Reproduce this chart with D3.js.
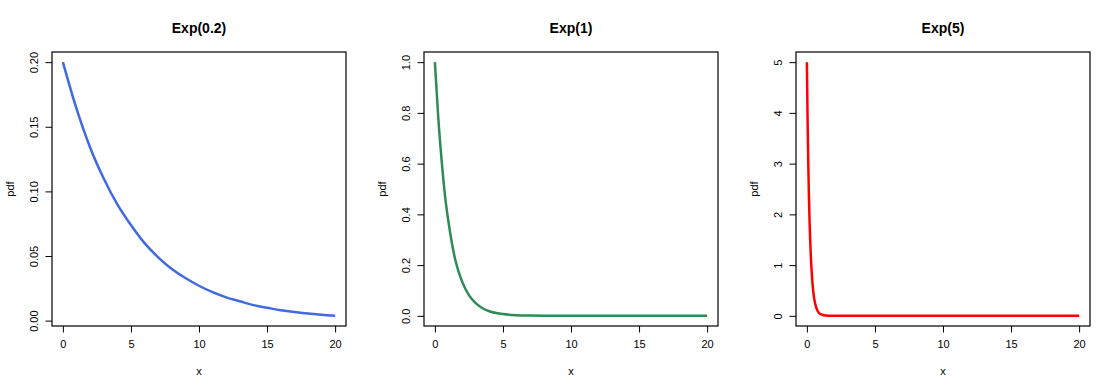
<!DOCTYPE html>
<html>
<head>
<meta charset="utf-8">
<script src="https://cdn.jsdelivr.net/npm/d3@7"></script>
<style>
    body { margin: 0; background: white; }
    text { font-family: "Liberation Sans", Arial, sans-serif; fill: black; }
</style>
</head>
<body>
<div id="plots"></div>
<script>
// Titles and colours of the three panels
const titles = ["Exp(0.2)", "Exp(1)", "Exp(5)"];
const colors = ["#4169E1", "#2E8B57", "#FF0000"];

// Tick labels
const xTicks = [0, 5, 10, 15, 20];
const yTicks1 = [0.00, 0.05, 0.10, 0.15, 0.20];
const yTicks2 = [0.0, 0.2, 0.4, 0.6, 0.8, 1.0];
const yTicks3 = [0, 1, 2, 3, 4, 5];

// Curve values
const x1 = [0, 1, 2, 3, 4, 5, 6, 7, 8, 9, 10, 11, 12, 13, 14, 15, 16, 17, 18, 19, 20];
const y1 = [0.200, 0.164, 0.134, 0.110, 0.090, 0.074, 0.060, 0.049, 0.040, 0.033, 0.027,
            0.022, 0.018, 0.015, 0.012, 0.010, 0.008, 0.0067, 0.0055, 0.0045, 0.0037];

const x2 = [0, 0.25, 0.5, 0.75, 1, 1.5, 2, 2.5, 3, 3.5, 4, 5, 6, 7, 8, 10, 15, 20];
const y2 = [1.00, 0.78, 0.61, 0.47, 0.37, 0.22, 0.135, 0.082, 0.050, 0.030, 0.018,
            0.007, 0.0025, 0.001, 0.0003, 0.00005, 0.0, 0.0];

const x3 = [0, 0.05, 0.1, 0.15, 0.2, 0.3, 0.4, 0.5, 0.6, 0.8, 1, 1.5, 2, 5, 10, 20];
const y3 = [5.00, 3.90, 3.03, 2.36, 1.84, 1.12, 0.68, 0.41, 0.25, 0.09, 0.034, 0.003,
            0.0002, 0.0, 0.0, 0.0];

const panels = [
    {title: titles[0], color: colors[0], xs: x1, ys: y1, yTicks: yTicks1, fmt: d3.format(".2f")},
    {title: titles[1], color: colors[1], xs: x2, ys: y2, yTicks: yTicks2, fmt: d3.format(".1f")},
    {title: titles[2], color: colors[2], xs: x3, ys: y3, yTicks: yTicks3, fmt: d3.format("d")}
];

const width = 1116,
    height = 391,
    panelWidth = 372,
    box = {left: 52, right: 346, top: 52, bottom: 326};

let svg = d3.select("#plots").append("svg")
    .attr("width", width)
    .attr("height", height);

// R style: extend the data range by 4% on both sides
function padded(extent) {
    let d = (extent[1] - extent[0]) * 0.04;
    return [extent[0] - d, extent[1] + d];
}

panels.forEach(function(p, i) {
    let g = svg.append("g")
        .attr("transform", "translate(" + (i * panelWidth) + ",0)");

    let x = d3.scaleLinear()
        .domain(padded(d3.extent(p.xs)))
        .range([box.left, box.right]);
    let y = d3.scaleLinear()
        .domain(padded(d3.extent(p.ys)))
        .range([box.bottom, box.top]);

    // Curve
    let points = p.xs.map((v, j) => [v, p.ys[j]]);
    g.append("path")
        .datum(points)
        .attr("fill", "none")
        .attr("stroke", p.color)
        .attr("stroke-width", 2.5)
        .attr("d", d3.line()
            .x(d => x(d[0]))
            .y(d => y(d[1]))
            .curve(d3.curveMonotoneX));

    // Box
    g.append("rect")
        .attr("x", box.left)
        .attr("y", box.top)
        .attr("width", box.right - box.left)
        .attr("height", box.bottom - box.top)
        .attr("fill", "none")
        .attr("stroke", "black")
        .attr("stroke-width", 1.2);

    // x axis
    let xAxis = g.append("g")
        .attr("transform", "translate(0," + box.bottom + ")")
        .call(d3.axisBottom(x).tickValues(xTicks).tickSize(6.5).tickPadding(8).tickSizeOuter(0));
    xAxis.select(".domain").remove();
    xAxis.selectAll("text")
        .style("font-size", "11px")
        .style("font-family", "Liberation Sans, Arial, sans-serif");

    // y axis, labels turned like R's las=0
    let yAxis = g.append("g")
        .attr("transform", "translate(" + box.left + ",0)")
        .call(d3.axisLeft(y).tickValues(p.yTicks).tickFormat(p.fmt).tickSize(6.5).tickSizeOuter(0));
    yAxis.select(".domain").remove();
    yAxis.selectAll("text")
        .attr("x", null)
        .attr("dy", null)
        .attr("transform", "translate(-18.5,0) rotate(-90)")
        .attr("text-anchor", "middle")
        .attr("dominant-baseline", "central")
        .style("font-size", "11px")
        .style("font-family", "Liberation Sans, Arial, sans-serif");

    // Title and axis labels
    g.append("text")
        .attr("x", (box.left + box.right) / 2)
        .attr("y", 32.5)
        .attr("text-anchor", "middle")
        .style("font-size", "14px")
        .style("font-weight", "bold")
        .text(p.title);

    g.append("text")
        .attr("x", (box.left + box.right) / 2)
        .attr("y", 375)
        .attr("text-anchor", "middle")
        .style("font-size", "11px")
        .text("x");

    g.append("text")
        .attr("transform", "translate(10," + ((box.top + box.bottom) / 2) + ") rotate(-90)")
        .attr("text-anchor", "middle")
        .attr("dominant-baseline", "central")
        .style("font-size", "11px")
        .text("pdf");
});
</script>
</body>
</html>
